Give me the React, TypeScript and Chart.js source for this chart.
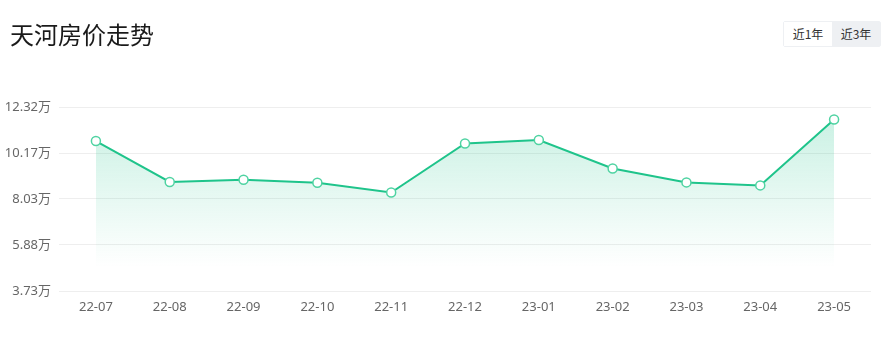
import React, { useEffect, useRef } from "react";
import { Chart, registerables } from "chart.js";

Chart.register(...registerables);

const categories = ["22-07", "22-08", "22-09", "22-10", "22-11", "22-12", "23-01", "23-02", "23-03", "23-04", "23-05"];
const prices = [10.73, 8.82, 8.92, 8.78, 8.33, 10.62, 10.78, 9.45, 8.8, 8.66, 11.74];
const yTicks = [3.73, 5.88, 8.03, 10.17, 12.32];
const title = "天河房价走势";
const buttons = ["近1年", "近3年"];

const FONT = "'Noto Sans CJK SC', 'Noto Sans', sans-serif";
const TICK_FONT = "'Noto Sans', 'Noto Sans CJK SC', sans-serif";

export default function App() {
  const ref = useRef<HTMLCanvasElement | null>(null);

  useEffect(() => {
    const canvas = ref.current!;
    const chart = new Chart(canvas, {
      type: "line",
      data: {
        labels: categories,
        datasets: [
          {
            data: prices,
            borderColor: "#1fc48b",
            borderWidth: 2,
            tension: 0,
            pointRadius: 4.5,
            pointHoverRadius: 4.5,
            pointBackgroundColor: "#ffffff",
            pointBorderColor: "#4fd3a2",
            pointBorderWidth: 1.5,
            fill: "start",
            backgroundColor: (ctx: any) => {
              const area = ctx.chart.chartArea;
              if (!area) return "rgba(31,196,139,0.2)";
              const g = ctx.chart.ctx.createLinearGradient(0, area.top, 0, area.top + 160);
              g.addColorStop(0, "rgba(31,196,139,0.25)");
              g.addColorStop(1, "rgba(31,196,139,0)");
              return g;
            },
          },
        ],
      },
      options: {
        animation: false,
        responsive: false,
        maintainAspectRatio: false,
        layout: { padding: { top: 107, right: 16, left: 0, bottom: 0 } },
        plugins: { legend: { display: false }, tooltip: { enabled: false } },
        scales: {
          x: {
            offset: true,
            grid: { display: false, drawTicks: false },
            border: { display: false },
            ticks: { color: "#666", font: { size: 13, family: TICK_FONT }, padding: 8, maxRotation: 0 },
            afterFit: (s: any) => {
              s.height = 49;
            },
          },
          y: {
            min: 3.73,
            max: 12.32,
            afterBuildTicks: (s: any) => {
              s.ticks = yTicks.map((v) => ({ value: v }));
            },
            grid: { color: "#eeeeee", drawTicks: false },
            border: { display: false },
            ticks: {
              color: "#666",
              font: { size: 13, family: TICK_FONT },
              padding: 8,
              callback: (v: any) => Number(v).toFixed(2) + "万",
            },
            afterFit: (s: any) => {
              s.width = 59;
            },
          },
        },
      },
    });
    return () => chart.destroy();
  }, []);

  return (
    <div style={{ position: "absolute", left: 0, top: 0, width: 887, height: 340, background: "#fff", fontFamily: FONT }}>
      <canvas ref={ref} width={887} height={340} style={{ position: "absolute", left: 0, top: 0, width: 887, height: 340 }} />
      <div style={{ position: "absolute", left: 10, top: 17, fontSize: 24, color: "#1a1a1a", lineHeight: "34px" }}>{title}</div>
      <div style={{ position: "absolute", left: 783, top: 21, display: "flex", height: 26, border: "1px solid #eef0f3", borderRadius: 2, boxSizing: "border-box" }}>
        {buttons.map((b, i) => (
          <div
            key={b}
            style={{
              width: 48,
              height: 24,
              lineHeight: "24px",
              textAlign: "center",
              fontSize: 12,
              color: "#333",
              background: i === 0 ? "#ffffff" : "#eef0f3",
            }}
          >
            {b}
          </div>
        ))}
      </div>
    </div>
  );
}
